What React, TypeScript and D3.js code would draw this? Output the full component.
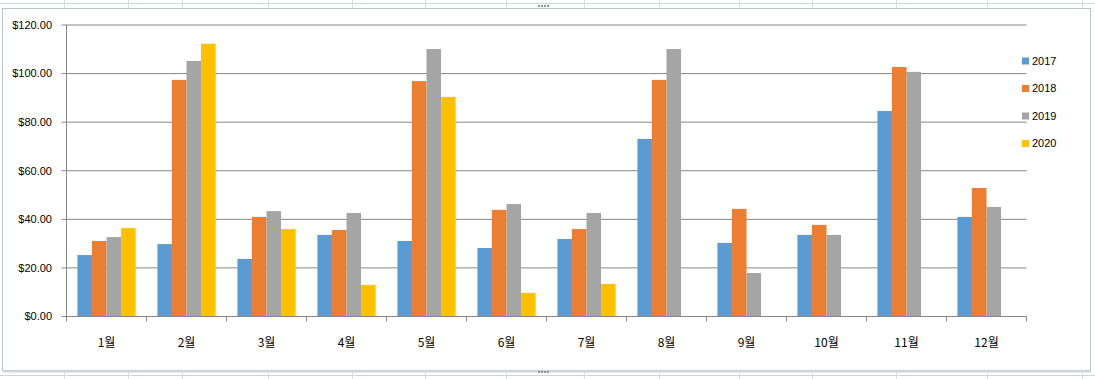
import React from "react";
import * as d3 from "d3";

const categories = ["1월", "2월", "3월", "4월", "5월", "6월", "7월", "8월", "9월", "10월", "11월", "12월"];
const seriesNames = ["2017", "2018", "2019", "2020"];
const s2017 = [25.3, 29.8, 23.7, 33.6, 31.1, 28.2, 31.9, 73.1, 30.3, 33.6, 84.6, 41.0];
const s2018 = [31.1, 97.4, 41.0, 35.6, 96.9, 43.9, 36.0, 97.4, 44.3, 37.7, 102.7, 52.9];
const s2019 = [32.7, 105.2, 43.4, 42.6, 110.1, 46.3, 42.6, 110.1, 17.9, 33.6, 100.7, 45.1];
const s2020: (number | null)[] = [36.4, 112.3, 36.0, 13.0, 90.4, 9.7, 13.4, null, null, null, null, null];
const yTicks = [0, 20, 40, 60, 80, 100, 120];
const colors = ["#5B9BD5", "#ED7D31", "#A5A5A5", "#FFC000"];

const W = 1095;
const H = 379;
const plotLeft = 66.5;
const plotRight = 1026.5;
const plotTop = 25;
const plotBottom = 316.5;

const sheetCols = [64, 128, 182, 268, 352, 425, 506, 584, 659, 739, 812, 896, 987, 1082];

export default function App() {
  const x = d3.scaleBand<string>().domain(categories).range([plotLeft, plotRight]).paddingInner(0).paddingOuter(0);
  const bw = x.bandwidth();
  const barW = bw / 5.5;
  const x1 = d3
    .scaleBand<string>()
    .domain(seriesNames)
    .range([bw * 0.75 / 5.5, bw - (bw * 0.75) / 5.5])
    .padding(0);
  const y = d3.scaleLinear().domain([0, 120]).range([plotBottom, plotTop]);
  const all = [s2017, s2018, s2019, s2020];
  const fmt = d3.format("$.2f");
  const font = "'Liberation Sans', Arial, sans-serif";
  const kfont = "'Noto Sans CJK KR', 'Liberation Sans', sans-serif";

  return (
    <svg width={W} height={H} style={{ position: "absolute", left: 0, top: 0, background: "#fff" }}>
      {/* spreadsheet background */}
      <rect x={0} y={0} width={W} height={H} fill="#fff" />
      <line x1={0} x2={W} y1={3.5} y2={3.5} stroke="#c9d6dc" />
      <line x1={0} x2={W} y1={375.5} y2={375.5} stroke="#c9d6dc" />
      {sheetCols.map((c) => (
        <g key={c}>
          <line x1={c + 0.5} x2={c + 0.5} y1={0} y2={8} stroke="#d3dee3" />
          <line x1={c + 0.5} x2={c + 0.5} y1={371} y2={H} stroke="#d3dee3" />
        </g>
      ))}
      {/* chart frame */}
      <rect x={2.5} y={8.5} width={1088} height={362} fill="#fff" stroke="#b9c4c9" />
      <line x1={3} x2={1091} y1={371.5} y2={371.5} stroke="#cfd8dc" strokeWidth={2} />
      <g fill="#8a9499">
        {[0, 1, 2, 3].map((i) => (
          <rect key={"t" + i} x={538 + i * 3} y={5} width={2} height={2} />
        ))}
        {[0, 1, 2, 3].map((i) => (
          <rect key={"b" + i} x={538 + i * 3} y={371} width={2} height={2} />
        ))}
      </g>

      {/* gridlines */}
      {yTicks.map((t) => (
        <g key={t}>
          <line x1={plotLeft - 5} x2={plotRight} y1={y(t)} y2={y(t)} stroke="#878787" strokeWidth={1} />
          <text
            x={52}
            y={y(t)}
            dy="0.35em"
            textAnchor="end"
            fontFamily={font}
            fontSize={11}
            fill="#000"
          >
            {fmt(t)}
          </text>
        </g>
      ))}
      <line x1={plotLeft} x2={plotLeft} y1={plotTop} y2={plotBottom} stroke="#878787" />

      {/* bars */}
      {categories.map((c, i) => (
        <g key={c} transform={`translate(${x(c)},0)`}>
          {all.map((s, k) => {
            const v = s[i];
            if (v == null) return null;
            return (
              <rect
                key={k}
                x={x1(seriesNames[k])}
                y={y(v)}
                width={barW}
                height={y(0) - y(v)}
                fill={colors[k]}
              />
            );
          })}
        </g>
      ))}

      {/* x axis */}
      <line x1={plotLeft} x2={plotRight} y1={plotBottom} y2={plotBottom} stroke="#878787" />
      {categories.map((c) => (
        <line key={"tk" + c} x1={x(c)!} x2={x(c)!} y1={plotBottom} y2={plotBottom + 5} stroke="#878787" />
      ))}
      <line x1={plotRight} x2={plotRight} y1={plotBottom} y2={plotBottom + 5} stroke="#878787" />
      {categories.map((c) => (
        <text
          key={"l" + c}
          x={x(c)! + bw / 2}
          y={343}
          dy="0.35em"
          textAnchor="middle"
          fontFamily={kfont}
          fontSize={12}
          fill="#000"
        >
          {c}
        </text>
      ))}

      {/* legend */}
      {seriesNames.map((n, k) => {
        const ly = 61 + k * 27.5;
        return (
          <g key={n}>
            <rect x={1022} y={ly - 3.5} width={7} height={7} fill={colors[k]} />
            <text x={1032} y={ly} dy="0.35em" fontFamily={font} fontSize={11} fill="#000">
              {n}
            </text>
          </g>
        );
      })}
    </svg>
  );
}
